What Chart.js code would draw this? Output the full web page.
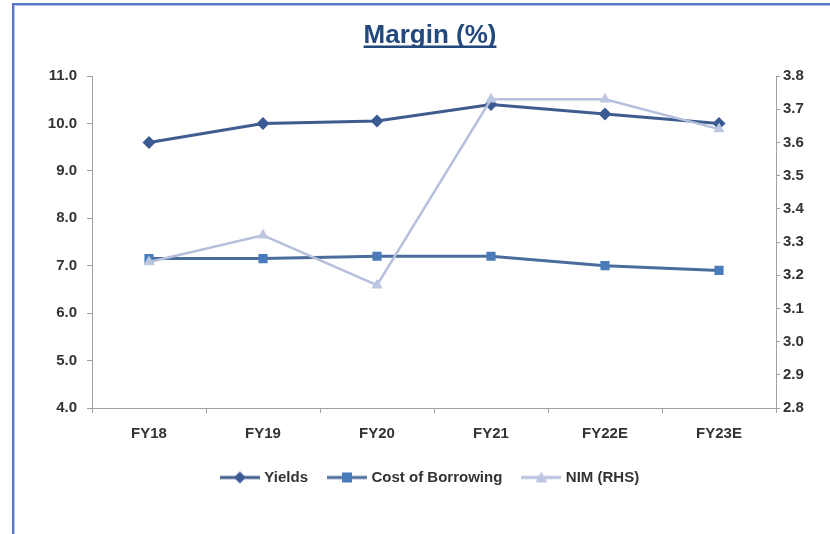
<!DOCTYPE html>
<html>
<head>
<meta charset="utf-8">
<title>Margin (%)</title>
<script src="https://cdn.jsdelivr.net/npm/chart.js@4.4.1/dist/chart.umd.min.js"></script>
<style>
  html, body { margin: 0; padding: 0; background: #fff; }
  #frame {
    position: absolute; left: 12px; top: 3px; right: 0; bottom: 0;
    border-left: 2px solid #5878c0; border-top: 2px solid #5878c0;
    box-shadow: inset 1px 1px 0 #b3c4ea;
  }
  #wrap { position: absolute; left: 0; top: 0; width: 830px; height: 534px; }
</style>
</head>
<body>
<div id="frame"></div>
<div id="wrap"><canvas id="marginChart" width="830" height="534"></canvas></div>
<script>
const categories = ['FY18', 'FY19', 'FY20', 'FY21', 'FY22E', 'FY23E'];
const yields = [9.6, 10.0, 10.05, 10.4, 10.2, 10.0];
const costOfBorrowing = [7.15, 7.15, 7.2, 7.2, 7.0, 6.9];
const nim = [3.24, 3.32, 3.17, 3.73, 3.73, 3.64];

const FONT = "'Liberation Sans', Arial, sans-serif";
const AXIS_GREY = '#a0a0a0';
const LABEL = '#333333';

// small line+marker swatch used as the legend's point style
function swatch(lineColor, markerColor, marker) {
    const c = document.createElement('canvas');
    c.width = 40; c.height = 14;
    const g = c.getContext('2d');
    g.strokeStyle = lineColor;
    g.lineWidth = 3;
    g.beginPath(); g.moveTo(0, 7); g.lineTo(40, 7); g.stroke();
    g.fillStyle = markerColor;
    g.beginPath();
    if (marker === 'diamond') {
        g.moveTo(20, 1); g.lineTo(26, 7); g.lineTo(20, 13); g.lineTo(14, 7);
    } else if (marker === 'square') {
        g.rect(15, 2, 10, 10);
    } else {
        g.moveTo(20, 1); g.lineTo(26, 12); g.lineTo(14, 12);
    }
    g.closePath(); g.fill();
    return c;
}

const titlePlugin = {
    id: 'underlinedTitle',
    afterDraw(chart) {
        const ctx = chart.ctx;
        ctx.save();
        ctx.font = "bold 26px " + FONT;
        ctx.fillStyle = '#22487c';
        ctx.textAlign = 'center';
        ctx.textBaseline = 'alphabetic';
        const text = 'Margin (%)';
        ctx.fillText(text, 430, 43);
        const w = ctx.measureText(text).width;
        ctx.fillRect(430 - w / 2, 45.5, w, 2.5);
        ctx.restore();
    }
};

const ctx = document.getElementById('marginChart').getContext('2d');

new Chart(ctx, {
    type: 'line',
    data: {
        labels: categories,
        datasets: [
            {
                label: 'Yields',
                data: yields,
                yAxisID: 'y',
                borderColor: '#3e5d8e',
                backgroundColor: '#3b5a94',
                borderWidth: 3,
                pointStyle: 'rectRot',
                pointRadius: 6.5,
                pointBorderWidth: 0,
                order: 1,
                legendIcon: swatch('#3e5d8e', '#3b5a94', 'diamond')
            },
            {
                label: 'Cost of Borrowing',
                data: costOfBorrowing,
                yAxisID: 'y',
                borderColor: '#4b6d9c',
                backgroundColor: '#4a7bba',
                borderWidth: 3,
                pointStyle: 'rect',
                pointRadius: 6.5,
                pointBorderWidth: 0,
                order: 2,
                legendIcon: swatch('#4b6d9c', '#4a7bba', 'square')
            },
            {
                label: 'NIM (RHS)',
                data: nim,
                yAxisID: 'y1',
                borderColor: '#b6c0dc',
                backgroundColor: '#bcc6e2',
                borderWidth: 2.5,
                pointStyle: 'triangle',
                pointRadius: 6.5,
                pointBorderWidth: 0,
                order: 0,
                legendIcon: swatch('#b6c0dc', '#bcc6e2', 'triangle')
            }
        ]
    },
    options: {
        responsive: false,
        animation: false,
        layout: { padding: { left: 42, right: 10, top: 76, bottom: 39 } },
        plugins: {
            legend: {
                position: 'bottom',
                labels: {
                    usePointStyle: true,
                    pointStyleWidth: 34,
                    padding: 22,
                    color: LABEL,
                    font: { family: FONT, size: 15, weight: 'bold' },
                    generateLabels(chart) {
                        return chart.data.datasets.map((ds, i) => ({
                            text: ds.label,
                            pointStyle: ds.legendIcon,
                            fillStyle: ds.backgroundColor,
                            strokeStyle: ds.borderColor,
                            fontColor: LABEL,
                            lineWidth: 0,
                            hidden: false,
                            datasetIndex: i
                        }));
                    }
                }
            },
            tooltip: { enabled: false }
        },
        scales: {
            x: {
                offset: true,
                grid: { drawOnChartArea: false, offset: true, tickLength: 5, color: AXIS_GREY },
                border: { color: AXIS_GREY },
                ticks: { color: LABEL, padding: 12, font: { family: FONT, size: 15, weight: 'bold' } },
                afterFit(scale) { scale.height = 40; }
            },
            y: {
                position: 'left',
                min: 4,
                max: 11,
                ticks: {
                    stepSize: 1,
                    padding: 10,
                    color: LABEL,
                    font: { family: FONT, size: 15, weight: 'bold' },
                    callback: v => v.toFixed(1)
                },
                grid: { drawOnChartArea: false, tickLength: 5, color: AXIS_GREY },
                border: { color: AXIS_GREY },
                afterFit(scale) { scale.width = 50; }
            },
            y1: {
                position: 'right',
                min: 2.8,
                max: 3.8,
                ticks: {
                    stepSize: 0.1,
                    padding: 3,
                    color: LABEL,
                    font: { family: FONT, size: 15, weight: 'bold' },
                    callback: v => Number(v).toFixed(1)
                },
                grid: { drawOnChartArea: false, tickLength: 4, color: AXIS_GREY },
                border: { color: AXIS_GREY },
                afterFit(scale) { scale.width = 44; }
            }
        }
    },
    plugins: [titlePlugin]
});
</script>
</body>
</html>
